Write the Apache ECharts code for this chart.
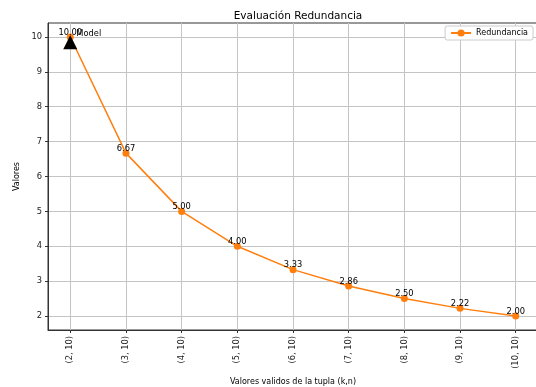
<!DOCTYPE html>
<html><head><meta charset="utf-8">
<script src="https://cdn.jsdelivr.net/npm/echarts@6/dist/echarts.min.js"></script>
<style>html,body{margin:0;padding:0;background:#fff}#c{width:536px;height:387px}</style>
</head><body><div id="c"></div>
<script>
const categories = ["(2, 10)","(3, 10)","(4, 10)","(5, 10)","(6, 10)","(7, 10)","(8, 10)","(9, 10)","(10, 10)"];
const redundancia = [10.00, 6.67, 5.00, 4.00, 3.33, 2.86, 2.50, 2.22, 2.00];
const yTicks = [2,3,4,5,6,7,8,9,10];
const modelPoint = [0, 9.85];
const modelLabel = "Model";

const chart = echarts.init(document.getElementById('c'), null, {renderer:'canvas'});
const font = 'DejaVu Sans';
const xIdx = categories.map((_, i) => i);
chart.setOption({
  animation:false,
  textStyle:{fontFamily:font},
  title:{text:'Evaluación Redundancia', left:293, top:6, textAlign:'center',
    textStyle:{fontFamily:font, fontSize:10.5, fontWeight:'normal', color:'#000'}},
  grid:{left:48, right:-2, top:23, bottom:57, containLabel:false, outerBoundsMode:'none',
    show:true, borderColor:'#333', borderWidth:1, backgroundColor:'transparent'},
  legend:{right:3, top:26, orient:'vertical', backgroundColor:'#fff', borderColor:'#ccc', borderWidth:1, borderRadius:2,
    padding:[3,5,3,5], itemWidth:20, itemHeight:9, itemGap:4,
    textStyle:{fontFamily:font, fontSize:8, color:'#000'},
    data:['Redundancia']},
  xAxis:{type:'value', min:-0.4, max:8.4,
    name:'Valores validos de la tupla (k,n)', nameLocation:'middle', nameGap:48,
    nameTextStyle:{fontFamily:font, fontSize:8, color:'#000'},
    axisLine:{show:true, onZero:false, lineStyle:{color:'#333', width:1}},
    axisTick:{show:true, length:3, customValues:xIdx, lineStyle:{color:'#333'}},
    axisLabel:{customValues:xIdx, rotate:90, fontSize:8.3, color:'#222', fontFamily:font, margin:6,
      formatter:(v)=>categories[Math.round(v)] ?? ''},
    splitLine:{show:true, lineStyle:{color:'#c4c4c4', width:1}}},
  yAxis:{type:'value', min:1.6, max:10.4,
    name:'Valores', nameLocation:'middle', nameGap:21, nameRotate:90,
    nameTextStyle:{fontFamily:font, fontSize:8, color:'#000'},
    axisLine:{show:true, onZero:false, lineStyle:{color:'#333', width:1}},
    axisTick:{show:true, length:3, customValues:yTicks, lineStyle:{color:'#333'}},
    axisLabel:{customValues:yTicks, fontSize:8.3, color:'#222', fontFamily:font, margin:6},
    splitLine:{show:true, lineStyle:{color:'#c4c4c4', width:1}}},
  series:[
    {name:'Redundancia', type:'line', data:redundancia.map((v,i)=>[i,v]),
      color:'#ff7f0e', symbol:'circle', symbolSize:7, lineStyle:{width:1.5, color:'#ff7f0e'},
      itemStyle:{color:'#ff7f0e'},
      label:{show:true, position:'top', distance:-3, fontSize:8.3, color:'#000', fontFamily:font,
        formatter:(p)=>p.value[1].toFixed(2)}},
    {name:'ModelMark', type:'scatter', data:[modelPoint], symbol:'triangle', symbolSize:[14,14],
      itemStyle:{color:'#000', opacity:1}, z:5,
      label:{show:true, position:'right', offset:[-6,-8], formatter:modelLabel, fontSize:8.3, color:'#000', fontFamily:font}}
  ]
});
</script></body></html>
